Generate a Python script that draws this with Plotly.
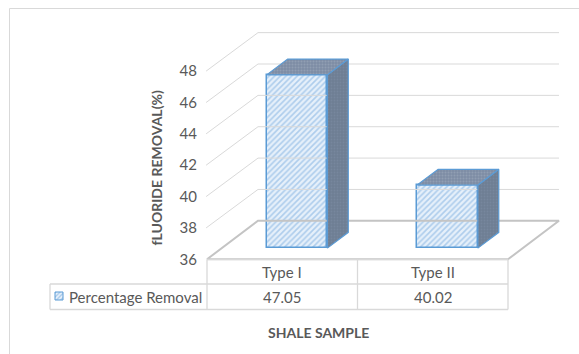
import plotly.graph_objects as go

# ---- data ----
categories = ["Type I", "Type II"]
removal = [47.05, 40.02]
series_name = "Percentage Removal"
y_ticks = [36, 38, 40, 42, 44, 46, 48]
y_title = "fLUORIDE REMOVAL(%)"
x_title = "SHALE SAMPLE"

# ---- layout geometry (axis units) ----
W, H = 579, 354
PX_X0, PX_PER_CAT = 207.0, 150.5      # pixel of front-left floor corner, px per category
PX_Y36, PX_PER_UNIT = 259.3, 15.68    # pixel of value 36 on front plane, px per value unit
Y_MIN = y_ticks[0]
Y_MAX = y_ticks[-1]
x_range = [-PX_X0 / PX_PER_CAT, (W - PX_X0) / PX_PER_CAT]
y_range = [Y_MIN - (H - PX_Y36) / PX_PER_UNIT, Y_MIN + PX_Y36 / PX_PER_UNIT]

DX = 51 / PX_PER_CAT        # full depth offset (x)
DY = 38.5 / PX_PER_UNIT     # full depth offset (y)
BAR_F0 = 0.29               # depth where bar front face sits
BAR_FD = 0.41               # bar depth as fraction of floor depth
BAR_W = 0.403
N = len(categories)

GRID = "#d9d9d9"
FLOOR = "#c4c4c4"
BLUE = "#5b9bd5"
TXT = "#595959"
FONT = "Lato"

fig = go.Figure()

# back wall + side wall gridlines
gx, gy = [], []
for t in y_ticks[1:]:
    gx += [-0.006, DX, N + DX, None]
    gy += [t, t + DY, t + DY, None]
fig.add_trace(go.Scatter(x=gx, y=gy, mode="lines", line=dict(color=GRID, width=1),
                         hoverinfo="skip", showlegend=False))

# floor outline
fig.add_trace(go.Scatter(
    x=[0, N, N + DX, DX, 0], y=[Y_MIN, Y_MIN, Y_MIN + DY, Y_MIN + DY, Y_MIN],
    mode="lines", line=dict(color=FLOOR, width=2), hoverinfo="skip", showlegend=False))

# bar front faces
sx, sy = BAR_F0 * DX, BAR_F0 * DY
centers = [i + 0.5 + sx for i in range(N)]
fig.add_trace(go.Bar(
    x=centers, y=[v - Y_MIN for v in removal], base=[Y_MIN + sy] * N, width=BAR_W,
    marker=dict(color="#e3eefa", line=dict(color=BLUE, width=1.5),
                pattern=dict(shape="/", fgcolor="#74a9de", bgcolor="#e6f0fa",
                             size=4, solidity=0.4)),
    name=series_name, showlegend=False, hoverinfo="skip"))

# bar top and side faces
bdx, bdy = BAR_FD * DX, BAR_FD * DY
for c, v in zip(centers, removal):
    xl, xr = c - BAR_W / 2, c + BAR_W / 2
    top, base = v + sy, Y_MIN + sy
    fig.add_trace(go.Scatter(
        x=[xr, xr, xr + bdx, xr + bdx, xr], y=[base, top, top + bdy, base + bdy, base],
        mode="lines", fill="toself", fillcolor="#738399",
        fillpattern=dict(shape=".", fgcolor="#8090a6", bgcolor="#6e7e94", size=3, solidity=0.3),
        line=dict(color=BLUE, width=1.2), hoverinfo="skip", showlegend=False))
    fig.add_trace(go.Scatter(
        x=[xl, xr, xr + bdx, xl + bdx, xl], y=[top, top, top + bdy, top + bdy, top],
        mode="lines", fill="toself", fillcolor="#8393a9",
        fillpattern=dict(shape=".", fgcolor="#a3b0c2", bgcolor="#7d8da4", size=3, solidity=0.35),
        line=dict(color=BLUE, width=1.2), hoverinfo="skip", showlegend=False))

# data table
row1 = Y_MIN - 24.7 / PX_PER_UNIT
row2 = Y_MIN - 50.2 / PX_PER_UNIT
tbl_left = -157 / PX_PER_CAT
tx, ty = [], []
tx += [0, N, None, tbl_left, N, None, tbl_left, N, None]
ty += [Y_MIN, Y_MIN, None, row1, row1, None, row2, row2, None]
tx += [tbl_left, tbl_left, None]
ty += [row1, row2, None]
for i in range(N + 1):
    tx += [i, i, None]
    ty += [Y_MIN, row2, None]
fig.add_trace(go.Scatter(x=tx, y=ty, mode="lines", line=dict(color=GRID, width=1.3),
                         hoverinfo="skip", showlegend=False))

# legend key inside the table
kx0, kx1 = tbl_left + 5 / PX_PER_CAT, tbl_left + 13 / PX_PER_CAT
ky0, ky1 = row1 - 8 / PX_PER_UNIT, row1 - 16 / PX_PER_UNIT
fig.add_trace(go.Scatter(
    x=[kx0, kx1, kx1, kx0, kx0], y=[ky0, ky0, ky1, ky1, ky0], mode="lines", fill="toself",
    fillcolor="#e3eefa",
    fillpattern=dict(shape="/", fgcolor=BLUE, bgcolor="#e8f1fb", size=3, solidity=0.4),
    line=dict(color=BLUE, width=1), hoverinfo="skip", showlegend=False))

font = dict(family=FONT, size=15, color=TXT)
ann = []
for i, (cat, v) in enumerate(zip(categories, removal)):
    ann.append(dict(x=i + 0.5, y=(Y_MIN + row1) / 2, text=cat, showarrow=False, font=font,
                    xref="x", yref="y"))
    ann.append(dict(x=i + 0.5, y=(row1 + row2) / 2, text=f"{v:.2f}", showarrow=False,
                    font=font, xref="x", yref="y"))
ann.append(dict(x=kx1 + 4 / PX_PER_CAT, y=(row1 + row2) / 2, text=series_name, showarrow=False,
                xanchor="left", font=font, xref="x", yref="y"))
ann.append(dict(x=145 / W, y=1 - 168 / H, xref="paper", yref="paper", text=f"<b>{y_title}</b>",
                textangle=-90, showarrow=False, font=dict(family=FONT, size=14, color=TXT)))
ann.append(dict(x=318 / W, y=1 - 343 / H, xref="paper", yref="paper", text=f"<b>{x_title}</b>",
                showarrow=False, font=dict(family=FONT, size=14, color=TXT)))

fig.update_layout(
    width=W, height=H, margin=dict(l=0, r=0, t=0, b=0),
    paper_bgcolor="white", plot_bgcolor="rgba(0,0,0,0)",
    bargap=0, barmode="overlay",
    xaxis=dict(range=x_range, visible=False, fixedrange=True),
    yaxis=dict(range=y_range, anchor="free", position=197 / W, tickvals=y_ticks,
               showgrid=False, zeroline=False, showline=False, ticks="",
               tickfont=dict(family=FONT, size=15, color=TXT), fixedrange=True),
    annotations=ann,
    shapes=[dict(type="rect", xref="paper", yref="paper", x0=9.5 / W, y0=-0.1, x1=1.1,
                 y1=1 - 8.5 / H, line=dict(color=GRID, width=1), layer="below")],
)

fig.write_html("out.html")
